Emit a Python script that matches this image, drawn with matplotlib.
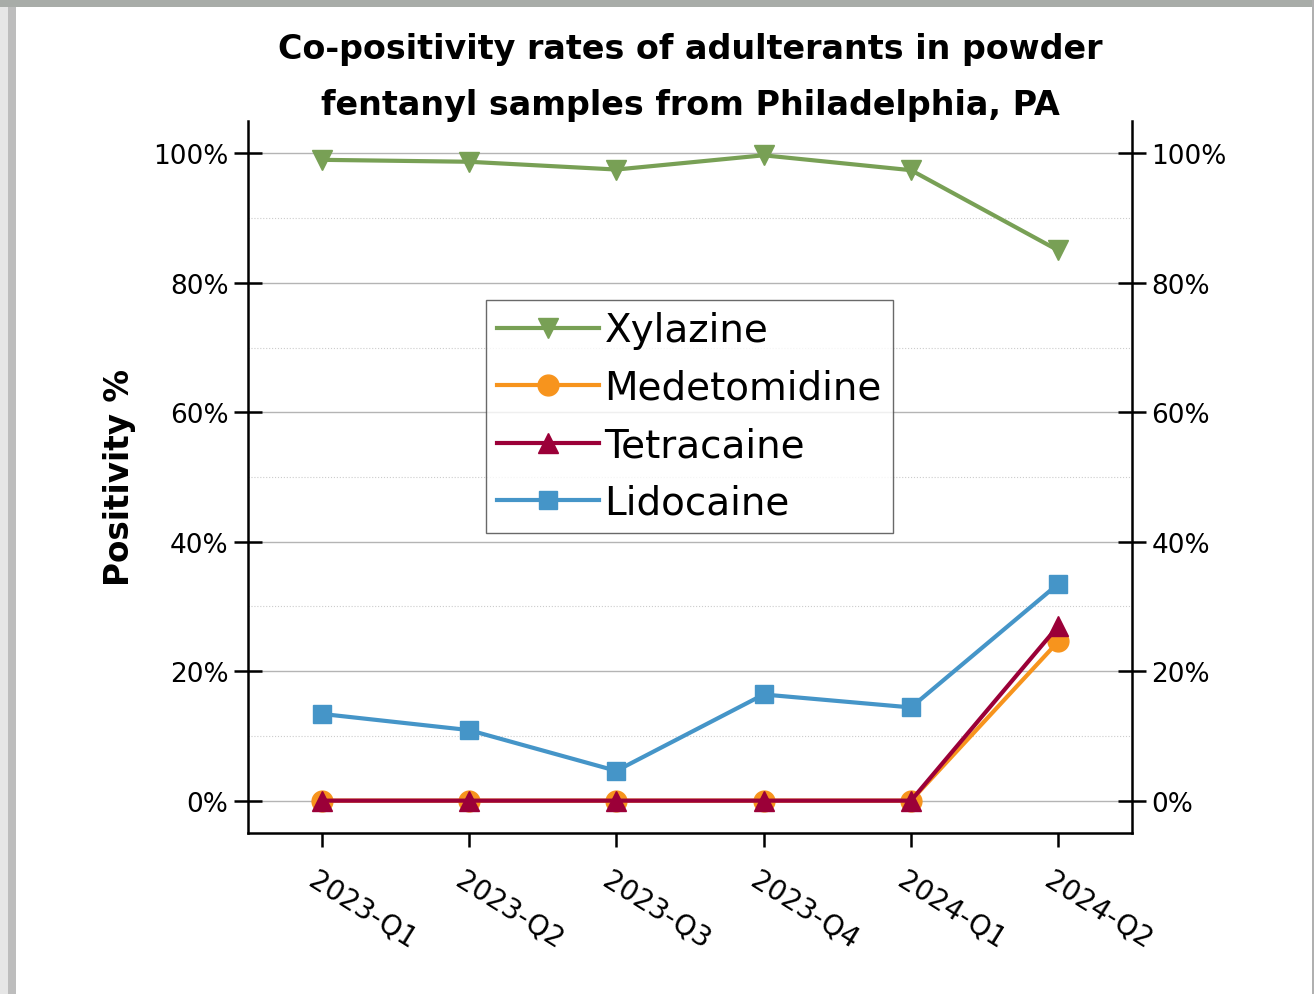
import matplotlib
matplotlib.use("Agg")
import matplotlib.pyplot as plt
from matplotlib.patches import Rectangle
from matplotlib.ticker import MultipleLocator, PercentFormatter
from matplotlib.transforms import ScaledTranslation

quarters = ["2023-Q1", "2023-Q2", "2023-Q3", "2023-Q4", "2024-Q1", "2024-Q2"]
xylazine = [99.0, 98.7, 97.5, 99.7, 97.4, 85.0]
medetomidine = [0.0, 0.0, 0.0, 0.0, 0.0, 24.6]
tetracaine = [0.0, 0.0, 0.0, 0.0, 0.0, 27.0]
lidocaine = [13.4, 10.9, 4.6, 16.4, 14.4, 33.5]

series = [
    ("Xylazine", xylazine, "#78a055", "v"),
    ("Medetomidine", medetomidine, "#f7941d", "o"),
    ("Tetracaine", tetracaine, "#9b0038", "^"),
    ("Lidocaine", lidocaine, "#4595c8", "s"),
]

plt.rcParams["font.family"] = "DejaVu Sans"

fig = plt.figure(figsize=(13.14, 9.95), dpi=100)
fig.patch.set_facecolor("white")
# screenshot-like grey edges
fig.patches.append(Rectangle((0, 0), 0.006, 1, transform=fig.transFigure,
                             facecolor="#e6e6e6", edgecolor="none", zorder=0))
fig.patches.append(Rectangle((0.006, 0), 0.006, 1, transform=fig.transFigure,
                             facecolor="#bdbdbd", edgecolor="none", zorder=0))
fig.patches.append(Rectangle((0, 0.992), 1, 0.008, transform=fig.transFigure,
                             facecolor="#a8aca8", edgecolor="none", zorder=0))
fig.patches.append(Rectangle((0.9985, 0), 0.0015, 1, transform=fig.transFigure,
                             facecolor="#b0b0b0", edgecolor="none", zorder=0))

ax = fig.add_axes([0.1887, 0.1618, 0.6728, 0.7156])
x = list(range(len(quarters)))

for name, vals, col, mk in series:
    ms = 13 if mk == "s" else 15
    ax.plot(x, vals, color=col, marker=mk, markersize=ms, linewidth=3.0,
            label=name, zorder=3)

ax.set_xlim(-0.5, 5.5)
ax.set_ylim(-5, 105)
ax.set_xticks(x)
ax.set_xticklabels([])
# rotated quarter labels, nudged left of each tick like the original
shift = ScaledTranslation(-0.11, -0.44, fig.dpi_scale_trans)
for i, q in enumerate(quarters):
    ax.text(i, 0, q, transform=ax.get_xaxis_transform() + shift,
            rotation=-32, ha="left", va="center", rotation_mode="anchor",
            fontsize=20)
ax.yaxis.set_major_locator(MultipleLocator(20))
ax.yaxis.set_minor_locator(MultipleLocator(10))
ax.yaxis.set_major_formatter(PercentFormatter(decimals=0))
ax.tick_params(axis="y", which="major", direction="inout", length=20, width=1.8,
               labelsize=19, left=True, right=True, labelleft=True, labelright=True,
               pad=4)
ax.tick_params(axis="y", which="minor", left=False, right=False)
ax.tick_params(axis="x", direction="out", length=10, width=1.8)

ax.grid(axis="y", which="major", color="#b4b4b4", linewidth=1.0)
ax.grid(axis="y", which="minor", color="#cccccc", linewidth=0.8, linestyle=":")
ax.set_axisbelow(True)

for side in ["left", "right", "bottom"]:
    ax.spines[side].set_linewidth(1.8)
ax.spines["top"].set_visible(False)

ax.set_ylabel("Positivity %", fontsize=23.5, fontweight="bold", labelpad=12)
ax.set_title("Co-positivity rates of adulterants in powder\nfentanyl samples from Philadelphia, PA",
             fontsize=24, fontweight="bold", pad=4, linespacing=1.9)

leg = ax.legend(loc="upper left", bbox_to_anchor=(0.269, 0.749), borderaxespad=0,
                fontsize=28, frameon=True, fancybox=False, handlelength=2.6,
                handletextpad=0.15, labelspacing=0.5, borderpad=0.3)
leg.get_frame().set_edgecolor("#444444")
leg.get_frame().set_linewidth(1.0)

fig.savefig("out.png", dpi=100, facecolor=fig.get_facecolor())
